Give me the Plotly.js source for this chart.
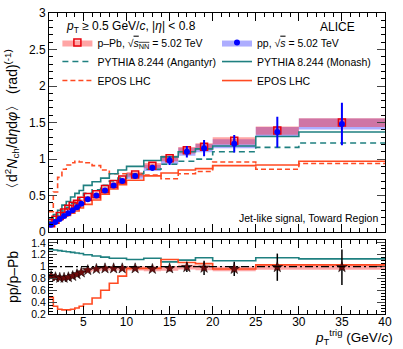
<!DOCTYPE html>
<html>
<head>
<meta charset="utf-8">
<script src="https://cdn.plot.ly/plotly-3.0.1.min.js"></script>
<style>html,body{margin:0;padding:0;background:#fff}</style>
</head>
<body>
<div id="chart" style="width:403px;height:349px"></div>
<script>
// pT trigger bins (GeV/c)
let binEdges = [1, 1.5, 2, 2.5, 3, 3.5, 4, 4.5, 5, 6, 7, 8, 9, 10, 12, 14, 16, 18, 20, 25, 30, 40]
let binCenters = [1.25, 1.75, 2.25, 2.75, 3.25, 3.75, 4.25, 4.75, 5.5, 6.5, 7.5, 8.5, 9.5, 11, 13, 15, 17, 19, 22.5, 27.5, 35]

// data, top panel
let ppVal   = [0.10, 0.14, 0.18, 0.22, 0.26, 0.30, 0.34, 0.39, 0.45, 0.50, 0.57, 0.64, 0.70, 0.77, 0.88, 0.98, 1.10, 1.15, 1.21, 1.37, 1.48]
let ppStat  = [0.004, 0.004, 0.004, 0.005, 0.005, 0.006, 0.006, 0.007, 0.008, 0.010, 0.012, 0.014, 0.017, 0.02, 0.04, 0.06, 0.08, 0.11, 0.12, 0.21, 0.29]
let ppSyst  = [0.010, 0.010, 0.010, 0.012, 0.013, 0.015, 0.017, 0.020, 0.022, 0.025, 0.028, 0.032, 0.035, 0.038, 0.044, 0.049, 0.055, 0.057, 0.060, 0.068, 0.074]
let pPbVal  = [0.12, 0.17, 0.22, 0.27, 0.32, 0.36, 0.39, 0.43, 0.48, 0.52, 0.59, 0.66, 0.72, 0.79, 0.91, 1.01, 1.12, 1.17, 1.25, 1.39, 1.50]
let pPbStat = [0.002, 0.002, 0.002, 0.002, 0.003, 0.003, 0.003, 0.004, 0.004, 0.005, 0.006, 0.007, 0.008, 0.009, 0.012, 0.015, 0.02, 0.025, 0.03, 0.04, 0.05]
let pPbSyst = [0.008, 0.008, 0.010, 0.011, 0.013, 0.014, 0.016, 0.017, 0.019, 0.021, 0.024, 0.026, 0.029, 0.032, 0.036, 0.040, 0.045, 0.047, 0.050, 0.056, 0.060]

// models, top panel
let monashVal   = [0.18, 0.24, 0.30, 0.37, 0.42, 0.48, 0.53, 0.57, 0.64, 0.69, 0.74, 0.80, 0.85, 0.90, 0.98, 1.03, 1.10, 1.14, 1.18, 1.31, 1.37]
let angantyrVal = [0.14, 0.19, 0.24, 0.29, 0.34, 0.39, 0.43, 0.47, 0.53, 0.58, 0.64, 0.70, 0.74, 0.80, 0.86, 0.93, 0.97, 1.00, 1.10, 1.16, 1.22]
let eposPpVal   = [0.09, 0.13, 0.17, 0.20, 0.23, 0.26, 0.29, 0.33, 0.38, 0.44, 0.52, 0.59, 0.65, 0.71, 0.77, 0.81, 0.85, 0.87, 0.91, 0.92, 0.97]
let eposPPbVal  = [0.28, 0.55, 0.75, 0.86, 0.92, 0.95, 0.97, 0.96, 0.95, 0.91, 0.85, 0.80, 0.80, 0.79, 0.78, 0.73, 0.80, 0.83, 0.96, 0.86, 0.94]

// ratio pp/p-Pb, bottom panel
let ratioVal    = [0.84, 0.82, 0.81, 0.81, 0.82, 0.84, 0.87, 0.90, 0.94, 0.96, 0.97, 0.97, 0.97, 0.97, 0.96, 0.97, 0.99, 0.98, 0.96, 0.99, 0.99]
let ratioStat   = [0.005, 0.005, 0.005, 0.005, 0.006, 0.006, 0.007, 0.008, 0.009, 0.01, 0.012, 0.014, 0.016, 0.02, 0.03, 0.05, 0.08, 0.12, 0.12, 0.23, 0.30]
let ratioSyst   = [0.03, 0.03, 0.03, 0.03, 0.03, 0.03, 0.03, 0.03, 0.035, 0.035, 0.035, 0.035, 0.035, 0.035, 0.04, 0.04, 0.04, 0.04, 0.04, 0.045, 0.045]
let monashRatio = [1.29, 1.28, 1.27, 1.26, 1.25, 1.24, 1.23, 1.22, 1.20, 1.18, 1.16, 1.14, 1.14, 1.12, 1.14, 1.08, 1.11, 1.15, 1.10, 1.15, 1.13]
let eposRatio   = [0.48, 0.33, 0.28, 0.27, 0.27, 0.28, 0.30, 0.33, 0.37, 0.47, 0.60, 0.72, 0.84, 0.97, 0.97, 1.12, 1.07, 1.05, 0.96, 1.03, 1.03]

const FONT = 'Liberation Sans, Arial, sans-serif'
const TEAL = '#1f8080'
const ORANGE = '#ff4a22'

// histogram outline through the bin edges
let stepTrace = (vals, color, dash, xa, ya, name, legend, show) => ({
    x: binEdges,
    y: vals.concat([vals[vals.length - 1]]),
    xaxis: xa, yaxis: ya,
    type: 'scatter', mode: 'lines',
    line: {shape: 'hv', color: color, width: 1.6, dash: dash},
    name: name, legend: legend, showlegend: show, hoverinfo: 'skip'
})

// systematic boxes spanning each bin
let boxTrace = (vals, syst, color, xa, ya, name, legend, show) => {
    let x = [], y = []
    vals.forEach((v, i) => {
        let lo = v - syst[i], hi = v + syst[i]
        x.push(binEdges[i], binEdges[i + 1], binEdges[i + 1], binEdges[i], binEdges[i], null)
        y.push(lo, lo, hi, hi, lo, null)
    })
    return {
        x: x, y: y, xaxis: xa, yaxis: ya,
        type: 'scatter', mode: 'lines', fill: 'toself', fillcolor: color,
        line: {width: 0}, name: name, legend: legend, showlegend: show, hoverinfo: 'skip'
    }
}

let traces = [
    boxTrace(ppVal, ppSyst, 'rgba(40,40,255,0.38)', 'x', 'y', 'pp, √<span style="text-decoration:overline"><i>s</i></span> = 5.02 TeV', 'legend2', true),
    boxTrace(pPbVal, pPbSyst, 'rgba(255,40,40,0.42)', 'x', 'y', 'p–Pb, √<span style="text-decoration:overline"><i>s</i><sub>NN</sub></span> = 5.02 TeV', 'legend', true),
    stepTrace(angantyrVal, TEAL, '6px,4px', 'x', 'y', 'PYTHIA 8.244 (Angantyr)', 'legend', true),
    stepTrace(eposPPbVal, ORANGE, '5px,3px', 'x', 'y', 'EPOS LHC', 'legend', true),
    stepTrace(monashVal, TEAL, 'solid', 'x', 'y', 'PYTHIA 8.244 (Monash)', 'legend2', true),
    stepTrace(eposPpVal, ORANGE, 'solid', 'x', 'y', 'EPOS LHC', 'legend2', true),
    {
        x: binCenters, y: pPbVal, xaxis: 'x', yaxis: 'y',
        type: 'scatter', mode: 'markers',
        marker: {symbol: 'square-open', size: 7, color: '#e8000b', line: {width: 1.5}},
        error_y: {type: 'data', array: pPbStat, color: '#e8000b', thickness: 2, width: 0},
        name: ' ', legend: 'legend3', showlegend: true, hoverinfo: 'skip'
    },
    {
        x: binCenters, y: ppVal, xaxis: 'x', yaxis: 'y',
        type: 'scatter', mode: 'markers',
        marker: {symbol: 'circle', size: 6, color: '#0000ff'},
        error_y: {type: 'data', array: ppStat, color: '#0000ff', thickness: 2, width: 0},
        name: ' ', legend: 'legend4', showlegend: true, hoverinfo: 'skip'
    },
    // ratio panel
    boxTrace(ratioVal, ratioSyst, 'rgba(255,40,40,0.42)', 'x2', 'y2', 'syst', 'legend', false),
    stepTrace(monashRatio, TEAL, 'solid', 'x2', 'y2', 'Monash ratio', 'legend', false),
    stepTrace(eposRatio, ORANGE, 'solid', 'x2', 'y2', 'EPOS ratio', 'legend', false),
    {
        x: binCenters, y: ratioVal, xaxis: 'x2', yaxis: 'y2',
        type: 'scatter', mode: 'markers',
        marker: {symbol: 'star', size: 8, color: '#6e0b0b', line: {width: 0.5, color: '#000'}},
        error_y: {type: 'data', array: ratioStat, color: '#000', thickness: 1.5, width: 0},
        showlegend: false, hoverinfo: 'skip'
    }
]

let tickFont = {family: FONT, size: 12, color: '#000'}
let xBase = {
    range: [1, 40], showline: true, linecolor: '#000', linewidth: 1, mirror: 'allticks',
    ticks: 'inside', ticklen: 8, tickcolor: '#000', dtick: 5, tick0: 0,
    minor: {ticks: 'inside', ticklen: 4, dtick: 1, tickcolor: '#000'},
    showgrid: false, zeroline: false, tickfont: tickFont
}

let legendBase = {
    bgcolor: 'rgba(0,0,0,0)', font: {family: FONT, size: 10.5, color: '#000'},
    xanchor: 'left', yanchor: 'top', tracegroupgap: 0, itemwidth: 30
}

let layout = {
    width: 403, height: 349,
    margin: {l: 49, r: 18, t: 13, b: 35},
    paper_bgcolor: '#fff', plot_bgcolor: '#fff',
    font: {family: FONT, color: '#000'},
    xaxis: Object.assign({}, xBase, {anchor: 'y', showticklabels: false}),
    yaxis: {
        domain: [0.272, 1], range: [0, 3], anchor: 'x',
        showline: true, linecolor: '#000', mirror: 'allticks',
        ticks: 'inside', ticklen: 8, dtick: 0.5, tick0: 0,
        minor: {ticks: 'inside', ticklen: 4, dtick: 0.1, tickcolor: '#000'},
        showgrid: false, zeroline: false, tickfont: tickFont,
        title: {text: '〈d<sup>2</sup><i>N</i><sub>ch</sub>/d<i>η</i>d<i>φ</i>〉 (rad)<sup>(-1)</sup>', font: {family: FONT, size: 14}, standoff: 8}
    },
    xaxis2: Object.assign({}, xBase, {anchor: 'y2', ticklabelstandoff: -3}),
    yaxis2: {
        domain: [0, 0.246], range: [0.2, 1.45], anchor: 'x2',
        showline: true, linecolor: '#000', mirror: 'allticks',
        ticks: 'inside', ticklen: 8, dtick: 0.2, tick0: 0.2,
        minor: {ticks: 'inside', ticklen: 4, dtick: 0.05, tickcolor: '#000'},
        showgrid: false, zeroline: false, tickfont: {family: FONT, size: 10.5, color: '#000'},
        title: {text: 'pp/p–Pb', font: {family: FONT, size: 14}, standoff: 9}
    },
    legend: Object.assign({}, legendBase, {x: 0.025, y: 0.95}),
    legend2: Object.assign({}, legendBase, {x: 0.5, y: 0.95}),
    legend3: Object.assign({}, legendBase, {x: 0.025, y: 0.95}),
    legend4: Object.assign({}, legendBase, {x: 0.5, y: 0.95}),
    shapes: [{
        type: 'line', xref: 'x2', yref: 'y2', x0: 1, x1: 40, y0: 1, y1: 1,
        line: {color: '#000', width: 1.2, dash: '8px,3px,2px,3px'}
    }],
    annotations: [
        {xref: 'paper', yref: 'paper', x: 0.045, y: 0.953, xanchor: 'left', yanchor: 'middle', showarrow: false,
         text: '<i>p</i><sub>T</sub> ≥ 0.5 GeV/<i>c</i>, |<i>η</i>| < 0.8', font: {family: FONT, size: 12}},
        {xref: 'paper', yref: 'paper', x: 0.8, y: 0.953, xanchor: 'left', yanchor: 'middle', showarrow: false,
         text: 'ALICE', font: {family: FONT, size: 12}},
        {xref: 'paper', yref: 'paper', x: 0.56, y: 0.319, xanchor: 'left', yanchor: 'middle', showarrow: false,
         text: 'Jet-like signal, Toward Region', font: {family: FONT, size: 10.5}},
        {xref: 'paper', yref: 'paper', x: 1.03, y: -0.117, xanchor: 'right', yanchor: 'bottom', showarrow: false,
         text: '<i>p</i><sub>T</sub><sup>trig</sup> (GeV/<i>c</i>)', font: {family: FONT, size: 13.5}}
    ]
}

Plotly.newPlot('chart', traces, layout, {staticPlot: true})
</script>
</body>
</html>
